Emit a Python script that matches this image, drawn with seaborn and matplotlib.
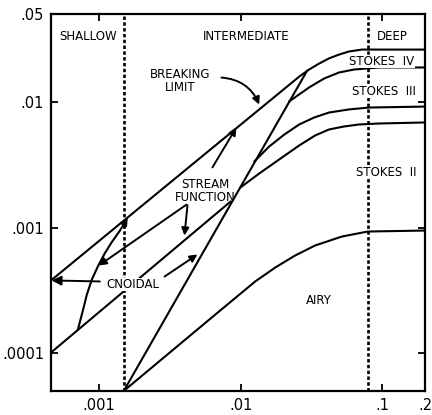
import matplotlib
matplotlib.use("Agg")
import matplotlib.pyplot as plt
import seaborn as sns

# ----------------------------
# Data (d/gT^2 on x, H/gT^2 on y)
# ----------------------------
breaking_x = [4.6e-4, 0.0259, 0.0304, 0.0358, 0.0420, 0.0494, 0.0581, 0.0716, 0.2]
breaking_y = [3.79e-4, 0.0159, 0.0181, 0.0202, 0.0222, 0.0238, 0.0252, 0.0261, 0.0261]

ursell_x = [1.5e-3, 0.0295]
ursell_y = [5.0e-5, 0.0178]

stokes4_x = [0.0220, 0.0304, 0.0388, 0.0494, 0.0629, 0.0944, 0.2]
stokes4_y = [0.01008, 0.01303, 0.01535, 0.01714, 0.0181, 0.0188, 0.0188]

stokes3_x = [0.01248, 0.01592, 0.0203, 0.0259, 0.0330, 0.0420, 0.0581, 0.0802, 0.2]
stokes3_y = [0.00335, 0.00442, 0.00549, 0.00661, 0.00751, 0.00823, 0.00871, 0.00902, 0.00918]

stokes2_x = [9.95e-3, 0.01353, 0.0187, 0.0259, 0.0335, 0.0420, 0.0535, 0.0683, 0.0944, 0.2]
stokes2_y = [0.00208, 0.00269, 0.00348, 0.00450, 0.00540, 0.00603, 0.00637, 0.00661, 0.00673, 0.00686]

cnoidal_x = [4.6e-4, 8.5e-3]
cnoidal_y = [1.01e-4, 1.61e-3]

airy_x = [1.5e-3, 6.64e-3, 0.01268, 0.01754, 0.0242, 0.0335, 0.0519, 0.0789, 0.2]
airy_y = [5.0e-5, 2.03e-4, 3.72e-4, 4.80e-4, 5.98e-4, 7.19e-4, 8.48e-4, 9.29e-4, 9.46e-4]

# curved boundary (ends in an arrow head on the breaking line)
curve_x = [7.12e-4, 7.72e-4, 8.24e-4, 8.93e-4, 9.84e-4, 1.10e-3, 1.23e-3, 1.41e-3, 1.57e-3]
curve_y = [1.54e-4, 2.18e-4, 2.93e-4, 3.85e-4, 4.89e-4, 6.21e-4, 7.60e-4, 9.46e-4, 1.158e-3]

shallow_limit = 1.5e-3
deep_limit = 0.0789

x_ticks = [0.001, 0.01, 0.1, 0.2]
x_labels = [".001", ".01", ".1", ".2"]
y_ticks = [0.0001, 0.001, 0.01, 0.05]
y_labels = [".0001", ".001", ".01", ".05"]

# ----------------------------
# Plot
# ----------------------------
sns.set_theme(style="ticks")
plt.rcParams["font.family"] = ["DejaVu Sans"]

fig, ax = plt.subplots(figsize=(4.32, 4.15), dpi=100)
fig.subplots_adjust(left=0.118, right=0.984, bottom=0.058, top=0.966)
ax.set_xscale("log")
ax.set_yscale("log")

line_kw = dict(ax=ax, color="black", linewidth=1.5, sort=False, estimator=None, legend=False)
for xs, ys in [(breaking_x, breaking_y), (ursell_x, ursell_y), (stokes4_x, stokes4_y),
               (stokes3_x, stokes3_y), (stokes2_x, stokes2_y), (cnoidal_x, cnoidal_y),
               (airy_x, airy_y), (curve_x[:-1], curve_y[:-1])]:
    sns.lineplot(x=xs, y=ys, **line_kw)

arrow = dict(arrowstyle="-|>", color="black", lw=1.4, mutation_scale=11, shrinkA=0, shrinkB=0)
ax.annotate("", xy=(1.60e-3, 1.20e-3), xytext=(curve_x[-2], curve_y[-2]), arrowprops=arrow)

for xv in [shallow_limit, deep_limit]:
    ax.axvline(xv, color="black", linewidth=1.9, linestyle=(0, (1.3, 0.9)), zorder=1)

ax.set_xlim(4.6e-4, 0.2)
ax.set_ylim(5e-5, 0.05)
ax.set_xticks(x_ticks, x_labels)
ax.set_yticks(y_ticks, y_labels)
ax.minorticks_off()
ax.tick_params(direction="in", length=5, width=1.3, top=True, right=True,
               labelsize=10.5, pad=5, colors="black")
for sp in ax.spines.values():
    sp.set_linewidth(1.6)
    sp.set_color("black")

box = dict(facecolor="white", edgecolor="none", pad=0.15)
txt = dict(ha="center", va="center", fontsize=8.5, color="black", bbox=box, zorder=5)
ax.text(8.37e-4, 0.0332, "SHALLOW", **txt)
ax.text(0.01096, 0.0332, "INTERMEDIATE", **txt)
ax.text(0.118, 0.0332, "DEEP", **txt)
ax.text(0.099, 0.0210, "STOKES  IV", **txt)
ax.text(0.1023, 0.01211, "STOKES  III", **txt)
ax.text(0.1057, 0.00274, "STOKES  II", **txt)
ax.text(3.77e-3, 0.01479, "BREAKING\nLIMIT", linespacing=1.0, **txt)
ax.text(5.6e-3, 1.96e-3, "STREAM\nFUNCTION", linespacing=1.0, ha="center", va="center",
        fontsize=8.5, color="black", zorder=5)
ax.text(1.73e-3, 3.52e-4, "CNOIDAL", **txt)
ax.text(0.0358, 2.62e-4, "AIRY", **txt)

# label arrows
ax.annotate("", xy=(0.01353, 0.00953), xytext=(7.32e-3, 0.01563),
            arrowprops=dict(arrow, connectionstyle="arc3,rad=-0.3"))
ax.annotate("", xy=(9.33e-3, 6.25e-3), xytext=(6.33e-3, 3.01e-3), arrowprops=arrow)
ax.annotate("", xy=(4.02e-3, 8.63e-4), xytext=(4.22e-3, 1.50e-3), arrowprops=arrow)
ax.annotate("", xy=(1.0e-3, 4.98e-4), xytext=(4.15e-3, 1.52e-3), arrowprops=arrow)
ax.annotate("", xy=(4.65e-4, 3.79e-4), xytext=(1.017e-3, 3.72e-4),
            arrowprops=dict(arrow, mutation_scale=14))
ax.annotate("", xy=(4.96e-3, 6.10e-4), xytext=(2.91e-3, 4.07e-4), arrowprops=arrow)

fig.savefig("out.png", dpi=100)
